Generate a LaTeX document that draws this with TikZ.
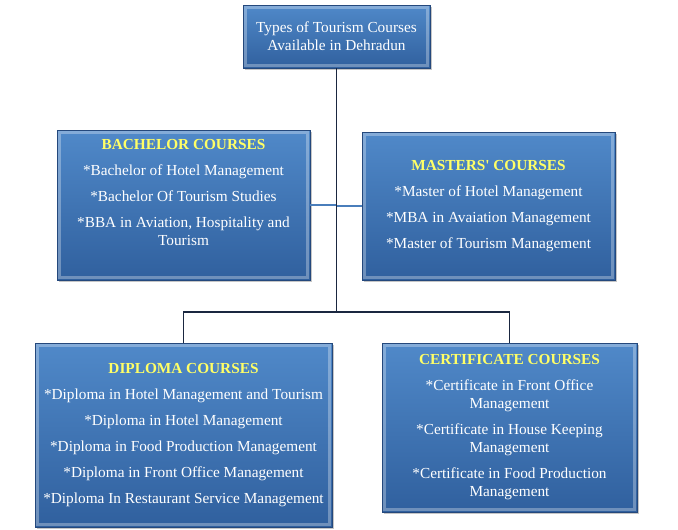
\documentclass[tikz,border=0pt]{standalone}
\usepackage{fontspec}
\setmainfont{Liberation Serif}
\usetikzlibrary{shadows}

\definecolor{boxhi}{HTML}{5089C9}
\definecolor{boxlo}{HTML}{30609E}
\definecolor{edge}{HTML}{24487C}
\definecolor{trunk}{HTML}{1A2740}
\definecolor{arm}{HTML}{4A7EBB}
\definecolor{head}{HTML}{FFFF66}

\tikzset{
 course/.style={draw=edge, line width=.8pt, top color=boxhi, bottom color=boxlo,
  text=white, align=center, inner sep=0pt, font=\fontsize{15.3}{18}\selectfont,
  drop shadow={shadow xshift=2pt, shadow yshift=-2pt, opacity=.45},
  path picture={\draw[white, opacity=.3, line width=2.5pt]
   ([shift={(2.5pt,-2.5pt)}]path picture bounding box.north west) rectangle
   ([shift={(-2.5pt,2.5pt)}]path picture bounding box.south east);}},
 trunk/.style={draw=trunk, line width=1.6pt},
 arm/.style={draw=arm, line width=2.5pt}
}

\newcommand{\hd}[1]{\textcolor{head}{\textbf{#1}}}

\begin{document}
\begin{tikzpicture}[x=1pt,y=1pt]
\useasboundingbox (0,0) rectangle (678,-530);

% boxes
\node[course, minimum width=187pt, minimum height=63pt] (types) at (336.5,-36.5)
 {Types of Tourism Courses\\Available in Dehradun};
\node[course, minimum width=253pt, minimum height=150pt] (bach) at (183.5,-205)
 {\hd{BACHELOR COURSES}\\[8pt]*Bachelor of Hotel Management\\[8pt]*Bachelor Of Tourism Studies\\[8pt]*BBA in Aviation, Hospitality and\\Tourism\\[8pt]\mbox{}};
\node[course, minimum width=253pt, minimum height=148pt] (mast) at (488.5,-206)
 {\hd{MASTERS\textquotesingle\ COURSES}\\[8pt]*Master of Hotel Management\\[8pt]*MBA in Avaiation Management\\[8pt]*Master of Tourism Management};
\node[course, minimum width=297pt, minimum height=184pt] (dipl) at (183.5,-435)
 {\hd{DIPLOMA COURSES}\\[8pt]*Diploma in Hotel Management and Tourism\\[8pt]*Diploma in Hotel Management\\[8pt]*Diploma in Food Production Management\\[8pt]*Diploma in Front Office Management\\[8pt]*Diploma In Restaurant Service Management};
\node[course, minimum width=255pt, minimum height=169pt] (cert) at (509.5,-427.5)
 {\hd{CERTIFICATE COURSES}\\[8pt]*Certificate in Front Office\\Management\\[8pt]*Certificate in House Keeping\\Management\\[8pt]*Certificate in Food Production\\Management};

% connectors
\coordinate (fork) at (types.south |- 0,-312);
\draw[arm] (bach.east) -- (bach.east -| types.south);
\draw[arm] (mast.west) -- (mast.west -| types.south);
\draw[trunk] (types.south) -- (fork);
\draw[trunk] (dipl.north) |- (fork) -| (cert.north);

\end{tikzpicture}
\end{document}
